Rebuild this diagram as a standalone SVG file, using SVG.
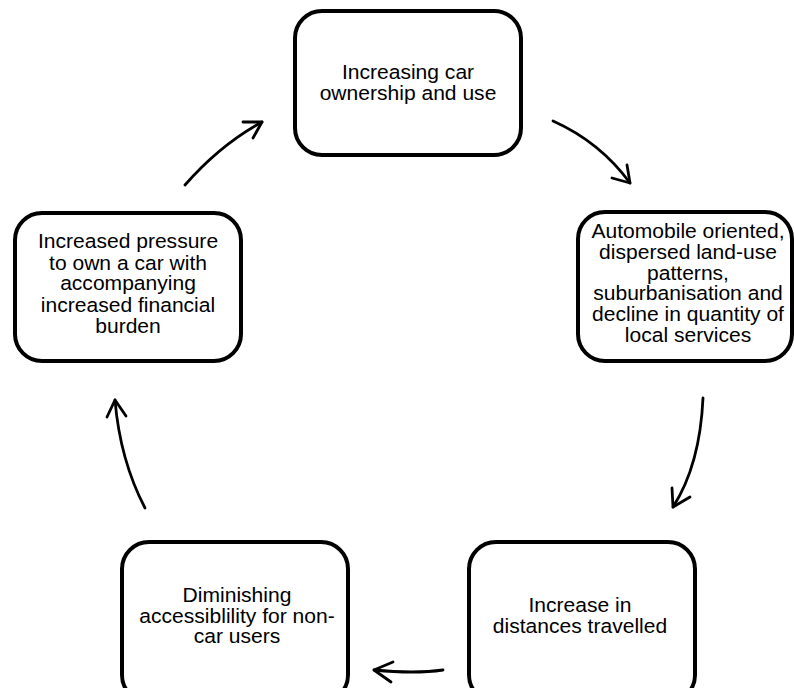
<svg xmlns="http://www.w3.org/2000/svg" width="794" height="688" viewBox="0 0 794 688">
<style>
.box{fill:#fff;stroke:#000;stroke-width:4}
.t{font-family:"Liberation Sans",Arial,sans-serif;font-size:19.5px;fill:#000;text-anchor:middle}
.c{fill:none;stroke:#000;stroke-width:2.8;stroke-linecap:round;stroke-linejoin:round}
</style>
<rect width="794" height="688" fill="#fff"/>
<g id="n1">
<rect class="box" x="295" y="11" width="226" height="144" rx="27"/>
<g transform="translate(408,0) scale(1.08,1)">
<text class="t" x="0" y="79">Increasing car</text>
<text class="t" x="0" y="100">ownership and use</text>
</g>
</g>
<g id="n2">
<rect class="box" x="578" y="212" width="214" height="149" rx="27"/>
<g transform="translate(688,0) scale(1.08,1)">
<text class="t" x="0" y="238">Automobile oriented,</text>
<text class="t" x="0" y="259">dispersed land-use</text>
<text class="t" x="0" y="280">patterns,</text>
<text class="t" x="0" y="300">suburbanisation and</text>
<text class="t" x="0" y="321">decline in quantity of</text>
<text class="t" x="0" y="342">local services</text>
</g>
</g>
<g id="n3">
<rect class="box" x="469" y="542" width="226" height="160" rx="27"/>
<g transform="translate(580,0) scale(1.08,1)">
<text class="t" x="0" y="612">Increase in</text>
<text class="t" x="0" y="633">distances travelled</text>
</g>
</g>
<g id="n4">
<rect class="box" x="122" y="542" width="226" height="160" rx="27"/>
<g transform="translate(237,0) scale(1.08,1)">
<text class="t" x="0" y="602">Diminishing</text>
<text class="t" x="0" y="623">accessiblility for non-</text>
<text class="t" x="0" y="643">car users</text>
</g>
</g>
<g id="n5">
<rect class="box" x="15" y="213" width="226" height="148" rx="27"/>
<g transform="translate(128,0) scale(1.08,1)">
<text class="t" x="0" y="248">Increased pressure</text>
<text class="t" x="0" y="270">to own a car with</text>
<text class="t" x="0" y="290">accompanying</text>
<text class="t" x="0" y="312">increased financial</text>
<text class="t" x="0" y="333">burden</text>
</g>
</g>
<g id="connectors">
<path class="c" d="M553,121 Q600,142 630,183"/>
<path class="c" d="M612,178 L630,183 L627,165"/>
<path class="c" d="M703,398 Q700,465 673,507"/>
<path class="c" d="M672,488 L673,507 L690,497"/>
<path class="c" d="M443,670 Q415,674 374,670"/>
<path class="c" d="M393,662 L374,670 L391,682"/>
<path class="c" d="M145,508 Q120,460 115,400"/>
<path class="c" d="M107,417 L115,400 L126,416"/>
<path class="c" d="M185,185 Q220,145 262,122"/>
<path class="c" d="M243,122 L262,122 L253,138"/>
</g>
</svg>
